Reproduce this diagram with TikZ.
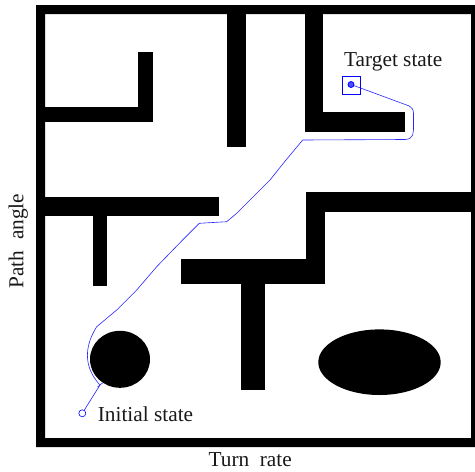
\documentclass[tikz,border=0pt]{standalone}
\usepackage{fontspec}
\setmainfont{Liberation Serif}
\begin{document}
\begin{tikzpicture}[x=1pt,y=-1pt,
  wall/.style={fill=black,draw=none},
  traj/.style={draw=blue!85!white,line width=0.6pt},
  lbl/.style={inner sep=0pt,font=\fontsize{21.3}{24}\selectfont,text=black!90}]
\useasboundingbox (0,0) rectangle (475,472);
% frame
\fill[black,even odd rule] (36,5) rectangle (475,447) (45,14) rectangle (471,438);
% upper-left L
\fill[wall] (45,107.3) rectangle (153.3,122.3);
\fill[wall] (138.3,51.7) rectangle (153.3,122.3);
% top T stem
\fill[wall] (227.3,14) rectangle (246,146.7);
% upper-right L
\fill[wall] (304.7,14) rectangle (323.3,131.7);
\fill[wall] (304.7,112.3) rectangle (404.7,131.7);
% left middle T
\fill[wall] (45,196.7) rectangle (218.7,216);
\fill[wall] (93.3,216) rectangle (107.3,286);
% right middle
\fill[wall] (306,192.3) rectangle (471,211.7);
\fill[wall] (306,192.3) rectangle (325.3,284);
\fill[wall] (181,259.3) rectangle (325.3,284);
\fill[wall] (241.3,284) rectangle (265,389.7);
% obstacles
\fill[wall] (120,359.3) ellipse [x radius=30, y radius=28.5];
\fill[wall] (379.5,362.2) ellipse [x radius=61.2, y radius=32.8];
% start and target
\node[circle,draw=blue,line width=0.6pt,minimum size=7pt,inner sep=0pt] (init) at (82.3,413.3) {};
\node[rectangle,draw=blue,line width=0.6pt,minimum size=18pt,inner sep=0pt] (tgt) at (351.7,85) {};
\node[circle,draw=blue,fill=blue!70,line width=0.8pt,minimum size=6pt,inner sep=0pt] (tgtc) at (351,84.5) {};
% trajectory
\draw[traj] (init) -- (100,385)
  .. controls (86,370) and (82,350) .. (96.7,326.7)
  -- (116.7,310) -- (136.7,290) -- (156.7,266.7) -- (183.3,239.3) -- (199.3,223.3)
  -- (226.7,221.7) -- (236.7,213.3) -- (256.7,193.3) -- (270,180) -- (283.3,163.3) -- (302.7,140)
  -- (405,139.5) .. controls (414,139) and (413.5,133) .. (413.5,125)
  -- (413.5,113.3) .. controls (413.5,109) and (411,107) .. (409.3,106)
  -- (tgtc);
\draw[traj] (97.5,387) -- (102.5,383);
% labels
\node[lbl,anchor=base west] (tlab) at (344,66.7) {Target state};
\node[lbl,anchor=base west] (ilab) at (97.7,421.7) {Initial state};
\node[lbl,anchor=base] (xlab) at (250.2,466.7) {Turn\ \ rate};
\node[lbl,anchor=base,rotate=90] (ylab) at (23.3,241) {Path\ \ angle};
\end{tikzpicture}
\end{document}
